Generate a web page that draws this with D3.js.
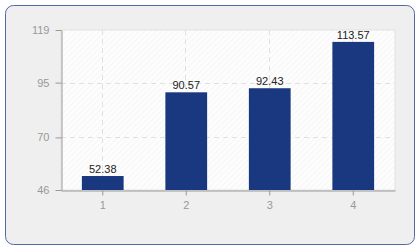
<!DOCTYPE html>
<html><head><meta charset="utf-8">
<script src="https://cdn.jsdelivr.net/npm/d3@7"></script>
<style>body{margin:0;background:#fff}svg{display:block}</style>
</head><body>
<svg id="c" width="420" height="250"></svg>
<script>
const categories = ["1","2","3","4"];
const values = [52.38, 90.57, 92.43, 113.57];
const yTicks = [46, 70, 95, 119];

const svg = d3.select("#c");
const W = 420, H = 250;
const m = {l:61, r:25, t:30, b:60};
const fontFam = "'Liberation Sans', Arial, sans-serif";

svg.append("rect").attr("x",5.5).attr("y",5.5).attr("width",409).attr("height",239)
  .attr("rx",8).attr("fill","#efefef").attr("stroke","#5468a3").attr("stroke-width",1);

const defs = svg.append("defs");
const pat = defs.append("pattern").attr("id","hatch").attr("patternUnits","userSpaceOnUse")
  .attr("width",4).attr("height",4).attr("patternTransform","rotate(45)");
pat.append("rect").attr("width",4).attr("height",4).attr("fill","#fdfdfd");
pat.append("line").attr("x1",0).attr("y1",0).attr("x2",0).attr("y2",4).attr("stroke","#f0f0f0").attr("stroke-width",1);

const x = d3.scaleBand().domain(categories).range([m.l, W-m.r]).paddingInner(0.5).paddingOuter(0.25);
const y = d3.scaleLinear().domain([46,119]).range([H-m.b, m.t]);

svg.append("rect").attr("x",m.l).attr("y",m.t).attr("width",W-m.r-m.l).attr("height",H-m.b-m.t)
  .attr("fill","url(#hatch)").attr("stroke","#e2e2e2");

// grid
svg.append("g").selectAll("line").data(yTicks.slice(1,-1)).join("line")
  .attr("x1",m.l).attr("x2",W-m.r).attr("y1",d=>Math.round(y(d))+0.5).attr("y2",d=>Math.round(y(d))+0.5)
  .attr("stroke","#e0e0e0").attr("stroke-dasharray","5,4");
svg.append("g").selectAll("line").data(categories).join("line")
  .attr("x1",d=>Math.round(x(d)+x.bandwidth()/2)-0.5).attr("x2",d=>Math.round(x(d)+x.bandwidth()/2)-0.5)
  .attr("y1",m.t).attr("y2",H-m.b)
  .attr("stroke","#e0e0e0").attr("stroke-dasharray","5,4");

// bars
svg.append("g").selectAll("rect").data(values).join("rect")
  .attr("x",(d,i)=>x(categories[i])).attr("width",x.bandwidth())
  .attr("y",d=>y(d)).attr("height",d=>y(46)-y(d))
  .attr("fill","#1a3880");

svg.append("g").selectAll("text").data(values).join("text")
  .attr("x",(d,i)=>x(categories[i])+x.bandwidth()/2).attr("y",d=>y(d)-3)
  .attr("text-anchor","middle").attr("font-family",fontFam).attr("font-size",11)
  .attr("fill","#222").text(d=>d.toFixed(2));

// axes
const ya = svg.append("g").attr("transform",`translate(${m.l+0.5},0)`)
  .call(d3.axisLeft(y).tickValues(yTicks).tickSize(6).tickPadding(6).tickSizeOuter(0));
const xa = svg.append("g").attr("transform",`translate(0,${H-m.b+0.5})`)
  .call(d3.axisBottom(x).tickSize(5).tickPadding(6).tickSizeOuter(0));
[ya,xa].forEach(a=>{
  a.select(".domain").attr("stroke","#999");
  a.selectAll(".tick line").attr("stroke","#999");
  a.selectAll(".tick text").attr("fill","#999").attr("font-family",fontFam).attr("font-size",11);
});
</script>
</body></html>
